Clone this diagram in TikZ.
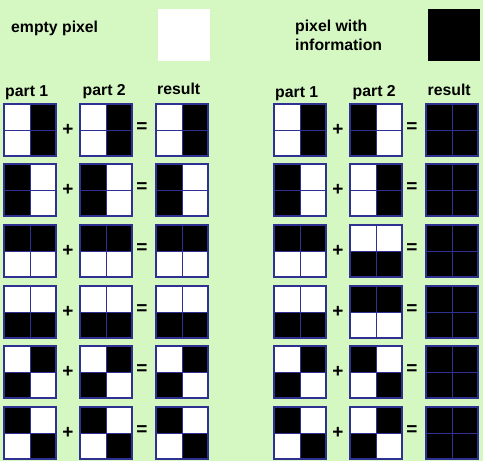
\documentclass[tikz,border=0pt]{standalone}
\usepackage{fontspec}
\setmainfont{Liberation Sans}
\definecolor{bg}{RGB}{213,248,194}
\definecolor{edge}{RGB}{46,49,146}
\newcommand\pixbox[6]{%
 \begin{scope}[shift={(#1,#2)}]
 \fill[#3] (0,0) rectangle (26,26);
 \fill[#4] (26,0) rectangle (52,26);
 \fill[#5] (0,26) rectangle (26,52);
 \fill[#6] (26,26) rectangle (52,52);
 \draw[edge, line width=1pt] (26,0) -- (26,52) (0,26) -- (52,26);
 \draw[edge, line width=1.5pt] (0,0) rectangle (52,52);
 \end{scope}}
\tikzset{
  lbl/.style={font=\bfseries\fontsize{15.8}{18}\selectfont, inner sep=0pt, anchor=base west},
  sign/.style={font=\bfseries\fontsize{19}{21}\selectfont, inner sep=0pt}
}
\begin{document}
\begin{tikzpicture}[x=1pt,y=-1pt]
\fill[bg] (0,0) rectangle (483,461);
\useasboundingbox (0,0) rectangle (483,461);
% legend
\node[lbl] (empty) at (11,32) {empty pixel};
\fill[white] (158,9) rectangle (210,61);
\node[lbl] (pw) at (295,31) {pixel with};
\node[lbl] (info) at (295,50) {information};
\fill[black] (428,9) rectangle (480,61);
% headers
\node[lbl] (h1) at (5,96) {part 1};
\node[lbl] (h2) at (82.5,95.5) {part 2};
\node[lbl] (h3) at (157,94) {result};
\node[lbl] (h4) at (275,97) {part 1};
\node[lbl] (h5) at (352.5,96.5) {part 2};
\node[lbl] (h6) at (427.5,95) {result};
% rows
\foreach \y/\n in {104/1,164/2,225/3,286/4,346/5,407/6}{
  \node[sign] (pl\n) at (68,\y+26) {+};
  \node[sign] (eq\n) at (142,\y+24) {=};
  \node[sign] (pr\n) at (338,\y+26) {+};
  \node[sign] (er\n) at (412,\y+24) {=};
}
% left column: identical parts
\pixbox{4}{104}{white}{black}{white}{black}
\pixbox{80}{104}{white}{black}{white}{black}
\pixbox{156}{104}{white}{black}{white}{black}
\pixbox{4}{164}{black}{white}{black}{white}
\pixbox{80}{164}{black}{white}{black}{white}
\pixbox{156}{164}{black}{white}{black}{white}
\pixbox{4}{225}{black}{black}{white}{white}
\pixbox{80}{225}{black}{black}{white}{white}
\pixbox{156}{225}{black}{black}{white}{white}
\pixbox{4}{286}{white}{white}{black}{black}
\pixbox{80}{286}{white}{white}{black}{black}
\pixbox{156}{286}{white}{white}{black}{black}
\pixbox{4}{346}{white}{black}{black}{white}
\pixbox{80}{346}{white}{black}{black}{white}
\pixbox{156}{346}{white}{black}{black}{white}
\pixbox{4}{407}{black}{white}{white}{black}
\pixbox{80}{407}{black}{white}{white}{black}
\pixbox{156}{407}{black}{white}{white}{black}
% right column: complementary parts
\pixbox{274}{104}{white}{black}{white}{black}
\pixbox{350}{104}{black}{white}{black}{white}
\pixbox{426}{104}{black}{black}{black}{black}
\pixbox{274}{164}{black}{white}{black}{white}
\pixbox{350}{164}{white}{black}{white}{black}
\pixbox{426}{164}{black}{black}{black}{black}
\pixbox{274}{225}{black}{black}{white}{white}
\pixbox{350}{225}{white}{white}{black}{black}
\pixbox{426}{225}{black}{black}{black}{black}
\pixbox{274}{286}{white}{white}{black}{black}
\pixbox{350}{286}{black}{black}{white}{white}
\pixbox{426}{286}{black}{black}{black}{black}
\pixbox{274}{346}{white}{black}{black}{white}
\pixbox{350}{346}{black}{white}{white}{black}
\pixbox{426}{346}{black}{black}{black}{black}
\pixbox{274}{407}{black}{white}{white}{black}
\pixbox{350}{407}{white}{black}{black}{white}
\pixbox{426}{407}{black}{black}{black}{black}
\end{tikzpicture}
\end{document}
